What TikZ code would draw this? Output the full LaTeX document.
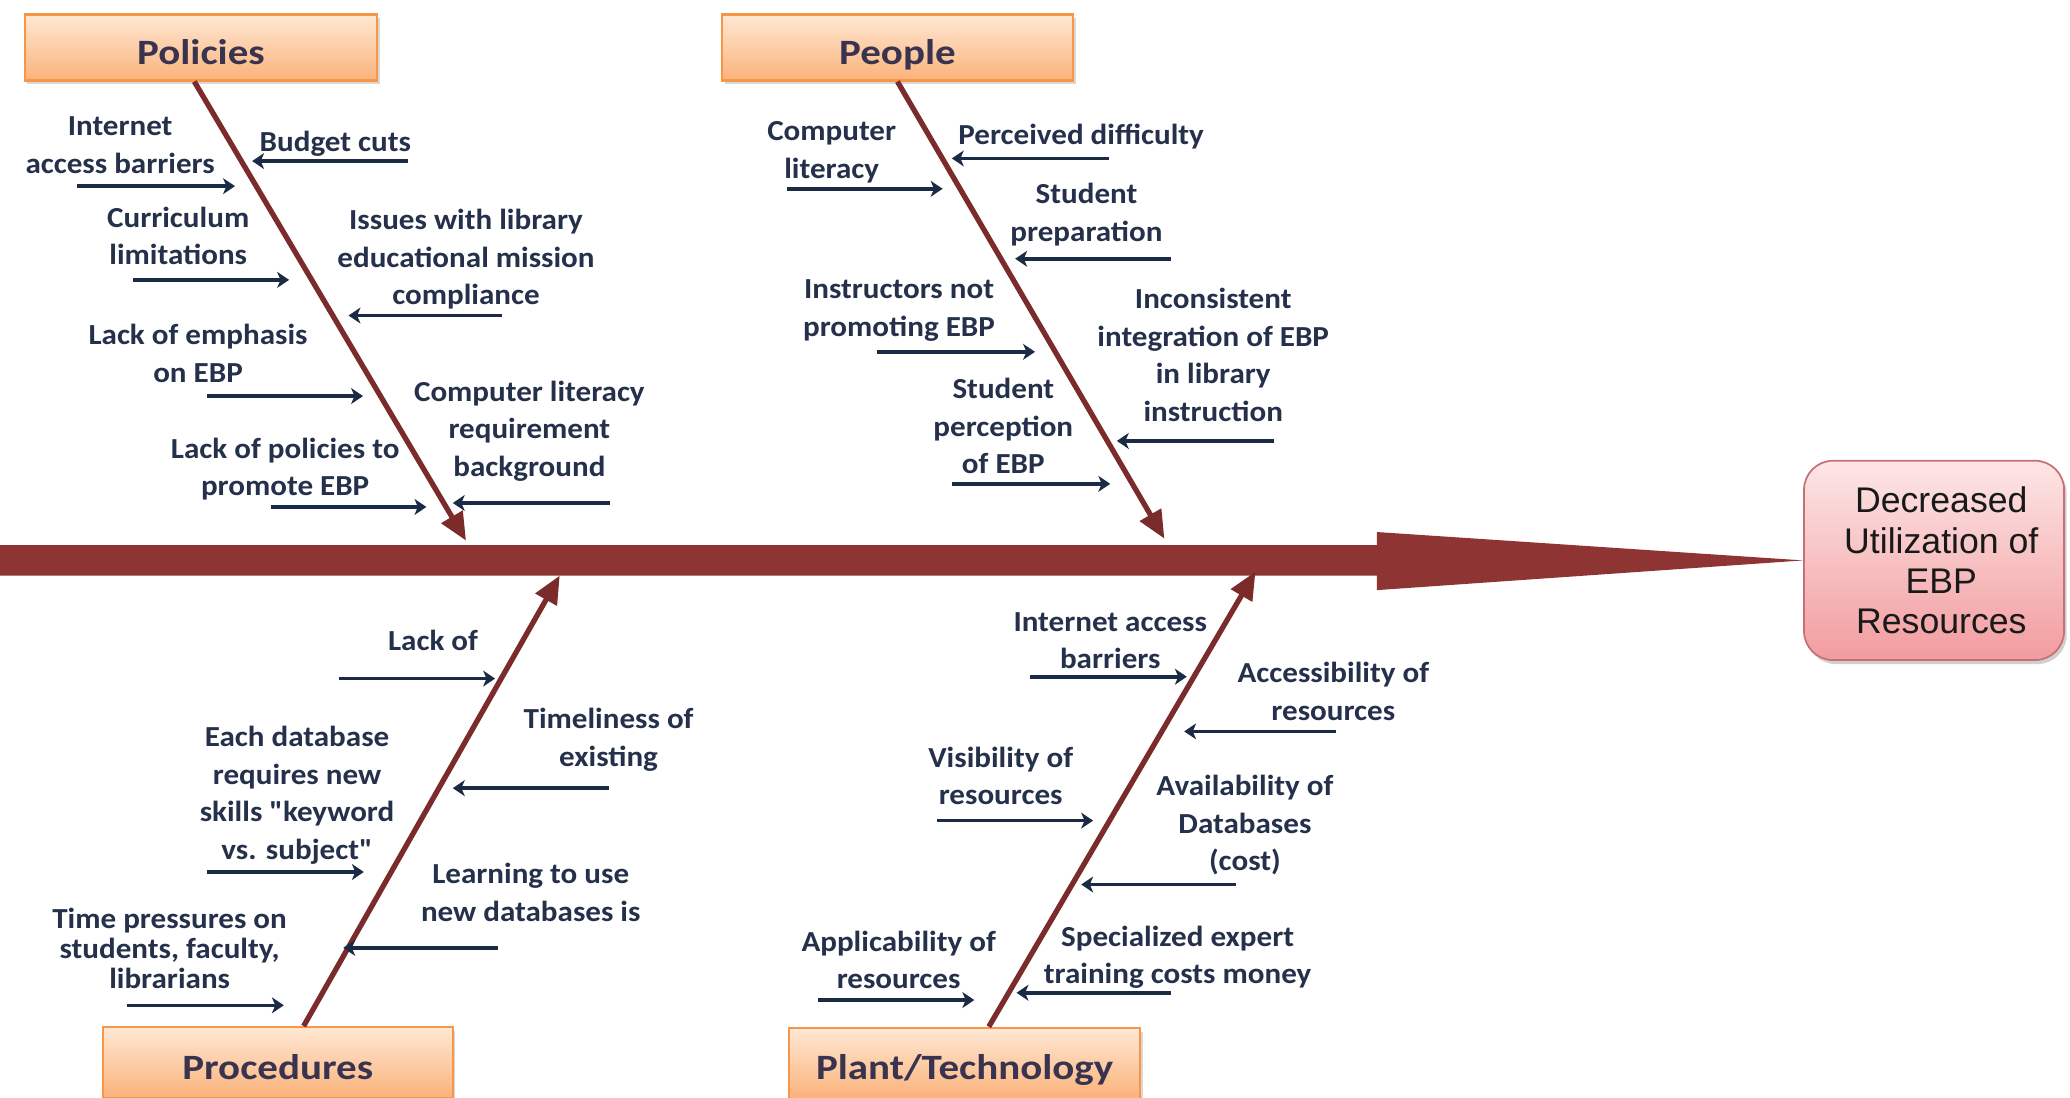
\documentclass[tikz,border=0pt]{standalone}
\usepackage{fontspec}
\usetikzlibrary{arrows.meta,shadows,calc}
\newfontfamily\lblfam{Carlito}[FakeStretch=1.07]
\newfontfamily\ttlfam{Carlito}[FakeStretch=1.15]
\newfontfamily\efffam{Liberation Sans}
\definecolor{spinecol}{HTML}{8E3433}
\definecolor{bonecol}{HTML}{7A2B2A}
\definecolor{arrcol}{HTML}{1C2B45}
\definecolor{txtcol}{HTML}{25304B}
\definecolor{ttlcol}{HTML}{3A3350}
\definecolor{orgborder}{HTML}{F79646}
\definecolor{orgtop}{HTML}{FFE8D4}
\definecolor{orgbot}{HTML}{FAB27A}
\definecolor{efftop}{HTML}{FDE6E6}
\definecolor{effbot}{HTML}{F29C9F}
\definecolor{effborder}{HTML}{C47074}
\newcommand\lblfont{\lblfam\bfseries\fontsize{22}{28.5}\selectfont}
\newcommand\lbltight{\lblfam\bfseries\fontsize{22}{23}\selectfont}
\newcommand\ttlfont{\ttlfam\bfseries\fontsize{27}{33}\selectfont}
\newcommand\efffont{\efffam\fontsize{27}{30.5}\selectfont}
\newcommand\efpad{\hspace*{11pt}}
\tikzset{
  titlebox/.style={draw=orgborder, line width=1.6pt, top color=orgtop, bottom color=orgbot,
    font=\ttlfont, text=ttlcol, minimum height=50pt, inner sep=0pt,
    text height=25pt, text depth=0pt,
    drop shadow={shadow xshift=2pt, shadow yshift=-3pt, opacity=0.25, fill=black!60}},
  lbl/.style={font=\lblfont, text=txtcol, align=center, inner sep=0pt, yshift=-3pt,
    execute at begin node=\strut, execute at end node=\strut},
  cause/.style={draw=arrcol, line width=2.7pt, -{Stealth[length=9pt,width=12pt,inset=2.5pt]}},
  bone/.style={draw=bonecol, line width=4pt, -{Triangle[length=21pt,width=18pt]}},
  effbox/.style={draw=effborder, line width=1.3pt, rounded corners=22pt,
    top color=efftop, bottom color=effbot, font=\efffont, text=black!90, align=center,
    inner sep=0pt, minimum width=197pt, minimum height=151pt,
    drop shadow={shadow xshift=2pt, shadow yshift=-3pt, opacity=0.3, fill=black!60}}
}
\begin{document}
\begin{tikzpicture}[x=1pt,y=-1pt]
\useasboundingbox (0,0) rectangle (1568,831);
\fill[white] (0,0) rectangle (1568,831);
\clip (0,0) rectangle (1568,831);

% effect
\node[effbox] (eff) at (1465,424.5) {\efpad Decreased\\\efpad Utilization of\\\efpad EBP\\\efpad Resources};

% spine
\fill[spinecol] (0,413) -- (1043,413) -- (1043,403) -- (eff.west) -- (1043,447) -- (1043,436) -- (0,436) -- cycle;

% category boxes
\node[titlebox, minimum width=267pt] (pol) at (152.2,36) {Policies};
\node[titlebox, minimum width=266pt] (peo) at (679.8,36) {People};

% bones
\coordinate (polT) at (353,409.5);
\coordinate (peoT) at (882,408);
\coordinate (procT) at (424,436);
\coordinate (pltT) at (951,433);
\draw[bone] ([xshift=-5pt]pol.south) -- (polT);
\draw[bone] ([xshift=0pt]peo.south) -- (peoT);

\node[titlebox, minimum width=265pt, minimum height=54pt] (proc) at (210.4,805) {Procedures};
\node[titlebox, minimum width=266pt, minimum height=54pt] (plt) at (730.7,805.5) {Plant/Technology};
\draw[bone] ([xshift=19.6pt]proc.north) -- (procT);
\draw[bone] ([xshift=18.3pt]plt.north) -- (pltT);

% ---- Policies causes
\node[lbl] (p1) at (91,111) {Internet\\access barriers};
\coordinate (p1s) at (58,141); \coordinate (p1e) at (178,141);
\draw[cause] (p1s) -- (p1e);
\node[lbl] (p2) at (254,106) {Budget cuts};
\coordinate (p2s) at (309,122); \coordinate (p2e) at (191,122);
\draw[cause] (p2s) -- (p2e);
\node[lbl] (p3) at (135,180) {Curriculum\\limitations};
\coordinate (p3s) at (101,212); \coordinate (p3e) at (219,212);
\draw[cause] (p3s) -- (p3e);
\node[lbl] (p4) at (353,196) {Issues with library\\educational mission\\compliance};
\coordinate (p4s) at (380,239); \coordinate (p4e) at (264,239);
\draw[cause] (p4s) -- (p4e);
\node[lbl] (p5) at (150,269) {Lack of emphasis\\on EBP};
\coordinate (p5s) at (157,300); \coordinate (p5e) at (275,300);
\draw[cause] (p5s) -- (p5e);
\node[lbl] (p6) at (401,326) {Computer literacy\\requirement\\background};
\coordinate (p6s) at (462,381); \coordinate (p6e) at (343,381);
\draw[cause] (p6s) -- (p6e);
\node[lbl] (p7) at (216,355) {Lack of policies to\\promote EBP};
\coordinate (p7s) at (205,384); \coordinate (p7e) at (323,384);
\draw[cause] (p7s) -- (p7e);

% ---- People causes
\node[lbl] (q1) at (630,115) {Computer\\literacy};
\coordinate (q1s) at (596,143); \coordinate (q1e) at (714,143);
\draw[cause] (q1s) -- (q1e);
\node[lbl] (q2) at (819,101) {Perceived difficulty};
\coordinate (q2s) at (840,120); \coordinate (q2e) at (721,120);
\draw[cause] (q2s) -- (q2e);
\node[lbl] (q3) at (823,162) {Student\\preparation};
\coordinate (q3s) at (887,196); \coordinate (q3e) at (769,196);
\draw[cause] (q3s) -- (q3e);
\node[lbl] (q4) at (681,234.5) {Instructors not\\promoting EBP};
\coordinate (q4s) at (664,266.5); \coordinate (q4e) at (784,266.5);
\draw[cause] (q4s) -- (q4e);
\node[lbl] (q5) at (919,270) {Inconsistent\\integration of EBP\\in library\\instruction};
\coordinate (q5s) at (965,334); \coordinate (q5e) at (846,334);
\draw[cause] (q5s) -- (q5e);
\node[lbl] (q6) at (760,324) {Student\\perception\\of EBP};
\coordinate (q6s) at (721,366.5); \coordinate (q6e) at (841,366.5);
\draw[cause] (q6s) -- (q6e);

% ---- Procedures causes
\node[lbl] (r1) at (328,484) {Lack of};
\coordinate (r1s) at (257,514); \coordinate (r1e) at (375,514);
\draw[cause] (r1s) -- (r1e);
\node[lbl] (r2) at (461,560) {Timeliness of\\existing};
\coordinate (r2s) at (461,597); \coordinate (r2e) at (343,597);
\draw[cause] (r2s) -- (r2e);
\node[lbl] (r3) at (225,601.75) {Each database\\requires new\\skills "keyword\\vs. subject"};
\coordinate (r3s) at (157,660.5); \coordinate (r3e) at (275.6,660.5);
\draw[cause] (r3s) -- (r3e);
\node[lbl] (r4) at (402,677.3) {Learning to use\\new databases is};
\coordinate (r4s) at (377,718); \coordinate (r4e) at (260,718);
\draw[cause] (r4s) -- (r4e);
\node[lbl, font=\lbltight] (r5) at (128.5,718.8) {Time pressures on\\students, faculty,\\librarians};
\coordinate (r5s) at (96,761.5); \coordinate (r5e) at (215,761.5);
\draw[cause] (r5s) -- (r5e);

% ---- Plant/Technology causes
\node[lbl] (s1) at (841,486.5) {Internet access\\barriers};
\coordinate (s1s) at (780,512.6); \coordinate (s1e) at (899,512.6);
\draw[cause] (s1s) -- (s1e);
\node[lbl] (s2) at (1010,525) {Accessibility of\\resources};
\coordinate (s2s) at (1012,554); \coordinate (s2e) at (897,554);
\draw[cause] (s2s) -- (s2e);
\node[lbl] (s3) at (758,589) {Visibility of\\resources};
\coordinate (s3s) at (709.5,621.6); \coordinate (s3e) at (828,621.6);
\draw[cause] (s3s) -- (s3e);
\node[lbl] (s4) at (943,624.6) {Availability of\\Databases\\(cost)};
\coordinate (s4s) at (936,670); \coordinate (s4e) at (819,670);
\draw[cause] (s4s) -- (s4e);
\node[lbl] (s5) at (680.7,728.4) {Applicability of\\resources};
\coordinate (s5s) at (619.6,757.5); \coordinate (s5e) at (738,757.5);
\draw[cause] (s5s) -- (s5e);
\node[lbl] (s6) at (892,724.5) {Specialized expert\\training costs money};
\coordinate (s6s) at (887,752); \coordinate (s6e) at (770,752);
\draw[cause] (s6s) -- (s6e);
\end{tikzpicture}
\end{document}
